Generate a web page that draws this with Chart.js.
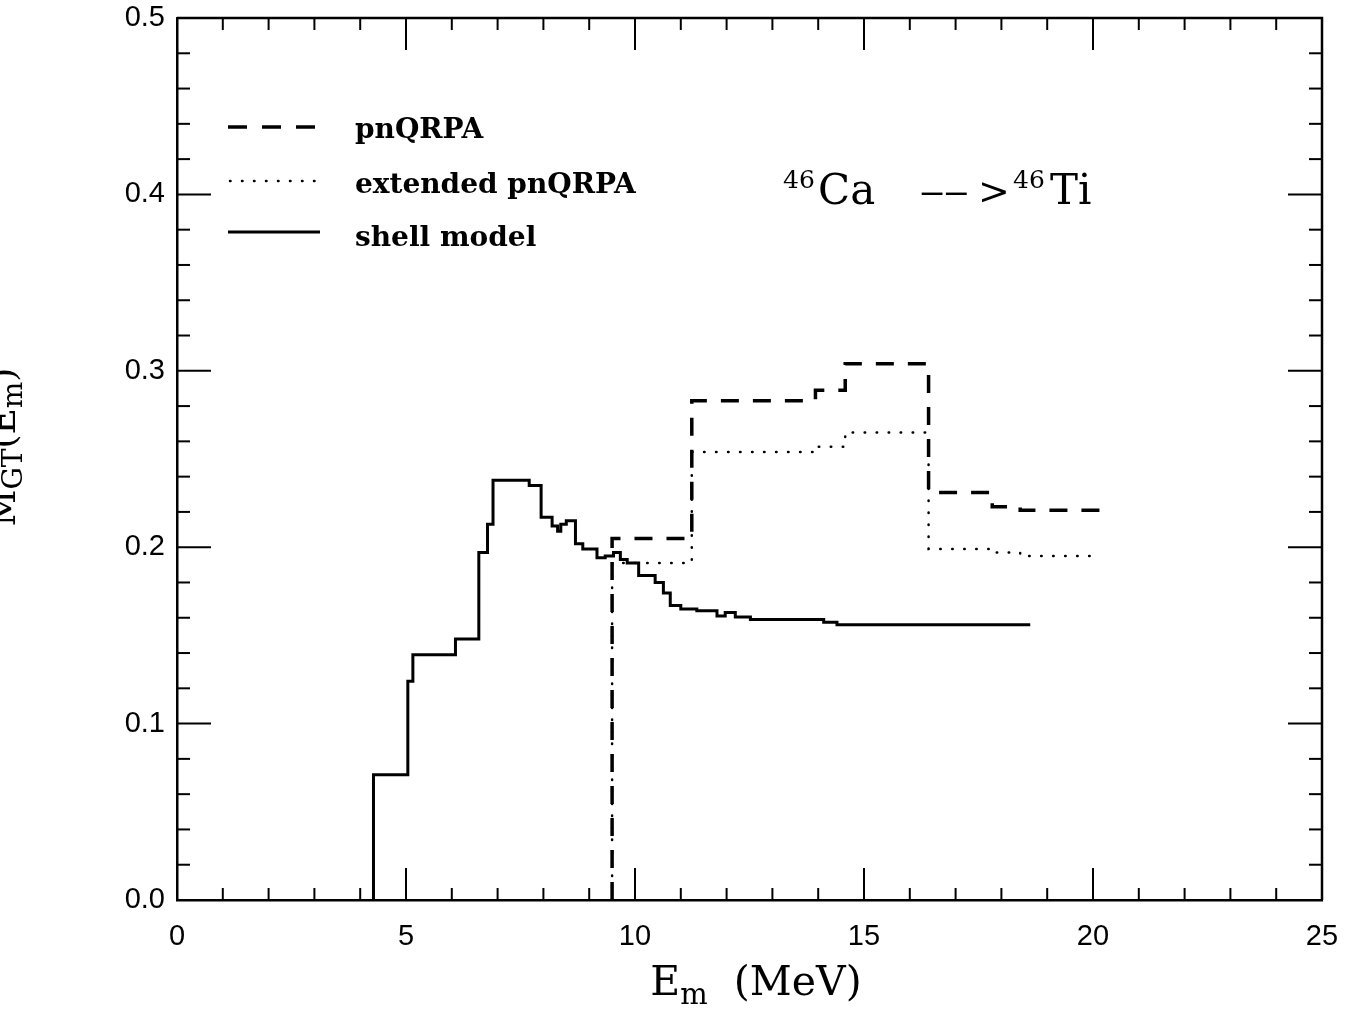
<!DOCTYPE html>
<html>
<head>
<meta charset="utf-8">
<script src="https://cdn.jsdelivr.net/npm/chart.js@4.4.0/dist/chart.umd.min.js"></script>
<style>
  html, body { margin: 0; padding: 0; background: #fff; }
  #wrap { width: 1352px; height: 1015px; }
</style>
</head>
<body>
<div id="wrap"><canvas id="gtChart" width="1352" height="1015"></canvas></div>
<script>
// ---- values (E in MeV, M_GT running sum) ----
const shellX = [4.29, 4.29, 5.04, 5.15, 6.08, 6.59, 6.78, 6.90, 7.69, 7.95, 8.19, 8.31, 8.38, 8.50, 8.70, 8.86,
                9.17, 9.35, 9.53, 9.68, 9.83, 10.08, 10.44, 10.62, 10.77, 11.00, 11.35, 11.79, 11.97, 12.19,
                12.52, 13.54, 14.12, 14.41, 16.67, 18.63];
const shellY = [0, 0.071, 0.124, 0.139, 0.148, 0.197, 0.213, 0.238, 0.235, 0.217, 0.212, 0.209, 0.213, 0.215, 0.202, 0.199,
                0.194, 0.195, 0.197, 0.193, 0.191, 0.184, 0.180, 0.174, 0.167, 0.165, 0.164, 0.161, 0.163, 0.1605,
                0.159, 0.159, 0.1575, 0.156, 0.156, 0.156];

const pnX = [9.50, 9.50, 11.24, 13.94, 14.59, 16.41, 17.80, 18.41, 20.38];
const pnY = [0, 0.205, 0.283, 0.289, 0.304, 0.231, 0.223, 0.221, 0.221];

const extX = [9.50, 9.50, 11.24, 13.94, 14.59, 16.41, 17.80, 18.41, 20.09];
const extY = [0, 0.191, 0.254, 0.257, 0.265, 0.199, 0.197, 0.195, 0.195];

const xTicks = [0, 5, 10, 15, 20, 25];
const yTicks = [0, 0.1, 0.2, 0.3, 0.4, 0.5];

const serif = '"DejaVu Serif", "Liberation Serif", serif';
const sans = '"Liberation Sans", Arial, sans-serif';

function toPoints(xs, ys) {
    return xs.map((x, i) => ({ x: x, y: ys[i] }));
}

// draws a run of text pieces (sub/superscripts) starting at x, returns the width
function drawRuns(ctx, runs, x, y, measureOnly) {
    let w = 0;
    runs.forEach(r => {
        ctx.font = (r.weight || 'normal') + ' ' + r.size + 'px ' + serif;
        if (!measureOnly) ctx.fillText(r.t, x + w, y + (r.dy || 0));
        w += ctx.measureText(r.t).width + (r.gap || 0);
    });
    return w;
}

function seg(ctx, x1, y1, x2, y2) {
    ctx.beginPath();
    ctx.moveTo(x1, y1);
    ctx.lineTo(x2, y2);
    ctx.stroke();
}

// inward ticks on all four sides + top/right frame
const frameTicks = {
    id: 'frameTicks',
    afterDatasetsDraw(chart) {
        const { ctx, chartArea: a, scales: { x, y } } = chart;
        ctx.save();
        ctx.strokeStyle = '#000';
        ctx.lineWidth = 2.5;
        ctx.beginPath();
        ctx.moveTo(a.left, a.top);
        ctx.lineTo(a.right, a.top);
        ctx.lineTo(a.right, a.bottom);
        ctx.stroke();

        ctx.lineWidth = 2;
        for (let v = 0; v <= 25; v++) {
            const px = x.getPixelForValue(v);
            const len = v % 5 === 0 ? 32 : 12;
            seg(ctx, px, a.bottom, px, a.bottom - len);
            seg(ctx, px, a.top, px, a.top + len);
        }
        for (let k = 0; k <= 25; k++) {
            const py = y.getPixelForValue(k * 0.02);
            const len = k % 5 === 0 ? 34 : 13;
            seg(ctx, a.left, py, a.left + len, py);
            seg(ctx, a.right, py, a.right - len, py);
        }
        ctx.restore();
    }
};

// legend, reaction label and axis titles
const texts = {
    id: 'texts',
    afterDraw(chart) {
        const ctx = chart.ctx;
        ctx.save();
        ctx.fillStyle = '#000';
        ctx.strokeStyle = '#000';
        ctx.textBaseline = 'alphabetic';
        ctx.textAlign = 'left';

        // legend samples
        ctx.lineWidth = 3.5;
        ctx.setLineDash([19, 15]);
        seg(ctx, 228, 127, 318, 127);
        ctx.lineWidth = 2.5;
        ctx.lineCap = 'round';
        ctx.setLineDash([0.5, 11.5]);
        seg(ctx, 230, 181, 320, 181);
        ctx.lineCap = 'butt';
        ctx.setLineDash([]);
        ctx.lineWidth = 3;
        seg(ctx, 228, 232, 320, 232);

        ctx.font = 'bold 28px ' + serif;
        ctx.fillText('pnQRPA', 355, 138);
        ctx.fillText('extended pnQRPA', 355, 193);
        ctx.fillText('shell model', 355, 246);

        // reaction  46Ca --> 46Ti
        ctx.font = '25px ' + serif;
        ctx.fillText('46', 783, 188);
        ctx.fillText('46', 1013, 188);
        ctx.font = '42px ' + serif;
        ctx.fillText('Ca', 818, 204);
        ctx.fillText('Ti', 1050, 204);
        ctx.font = '38px ' + serif;
        ctx.fillText('\u2012\u2012', 920, 204);
        ctx.fillText('>', 978, 204);

        // x title
        const xRuns = [
            { t: 'E', size: 41 },
            { t: 'm', size: 29, dy: 9 },
            { t: '  (MeV)', size: 41 }
        ];
        const xw = drawRuns(ctx, xRuns, 0, 0, true);
        drawRuns(ctx, xRuns, 756 - xw / 2, 995);

        // y title, rotated and cut by the page edge
        const yRuns = [
            { t: 'M', size: 36 },
            { t: 'GT', size: 28, dy: 7 },
            { t: '(E', size: 36 },
            { t: 'm', size: 28, dy: 7 },
            { t: ')', size: 36 }
        ];
        const yw = drawRuns(ctx, yRuns, 0, 0, true);
        ctx.translate(15, 447);
        ctx.rotate(-Math.PI / 2);
        drawRuns(ctx, yRuns, -yw / 2, 0);
        ctx.restore();
    }
};

const ctx = document.getElementById('gtChart');
new Chart(ctx, {
    type: 'scatter',
    data: {
        datasets: [
            {
                label: 'pnQRPA',
                data: toPoints(pnX, pnY),
                showLine: true,
                stepped: true,
                borderColor: '#000',
                borderWidth: 3.5,
                borderDash: [18, 14],
                pointRadius: 0
            },
            {
                label: 'extended pnQRPA',
                data: toPoints(extX, extY),
                showLine: true,
                stepped: true,
                borderColor: '#000',
                borderWidth: 2.5,
                borderCapStyle: 'round',
                borderDash: [0.5, 11.5],
                pointRadius: 0
            },
            {
                label: 'shell model',
                data: toPoints(shellX, shellY),
                showLine: true,
                stepped: true,
                borderColor: '#000',
                borderWidth: 3,
                pointRadius: 0
            }
        ]
    },
    options: {
        responsive: false,
        animation: false,
        devicePixelRatio: 1,
        layout: { padding: { top: 18, right: 30, left: 0, bottom: 0 } },
        plugins: {
            legend: { display: false },
            tooltip: { enabled: false }
        },
        scales: {
            x: {
                type: 'linear',
                min: 0,
                max: 25,
                afterBuildTicks: s => { s.ticks = xTicks.map(v => ({ value: v })); },
                afterFit: s => { s.height = 115; s.paddingLeft = 0; s.paddingRight = 0; },
                grid: { display: false, drawTicks: false },
                border: { display: true, color: '#000', width: 2.5 },
                ticks: {
                    color: '#000',
                    font: { family: sans, size: 29 },
                    padding: 20,
                    maxRotation: 0,
                    callback: v => String(v)
                }
            },
            y: {
                type: 'linear',
                min: 0,
                max: 0.5,
                afterBuildTicks: s => { s.ticks = yTicks.map(v => ({ value: v })); },
                afterFit: s => { s.width = 177; s.paddingTop = 0; s.paddingBottom = 0; },
                grid: { display: false, drawTicks: false },
                border: { display: true, color: '#000', width: 2.5 },
                ticks: {
                    color: '#000',
                    font: { family: sans, size: 29 },
                    padding: 12,
                    callback: v => Number(v).toFixed(1)
                }
            }
        }
    },
    plugins: [frameTicks, texts]
});
</script>
</body>
</html>
